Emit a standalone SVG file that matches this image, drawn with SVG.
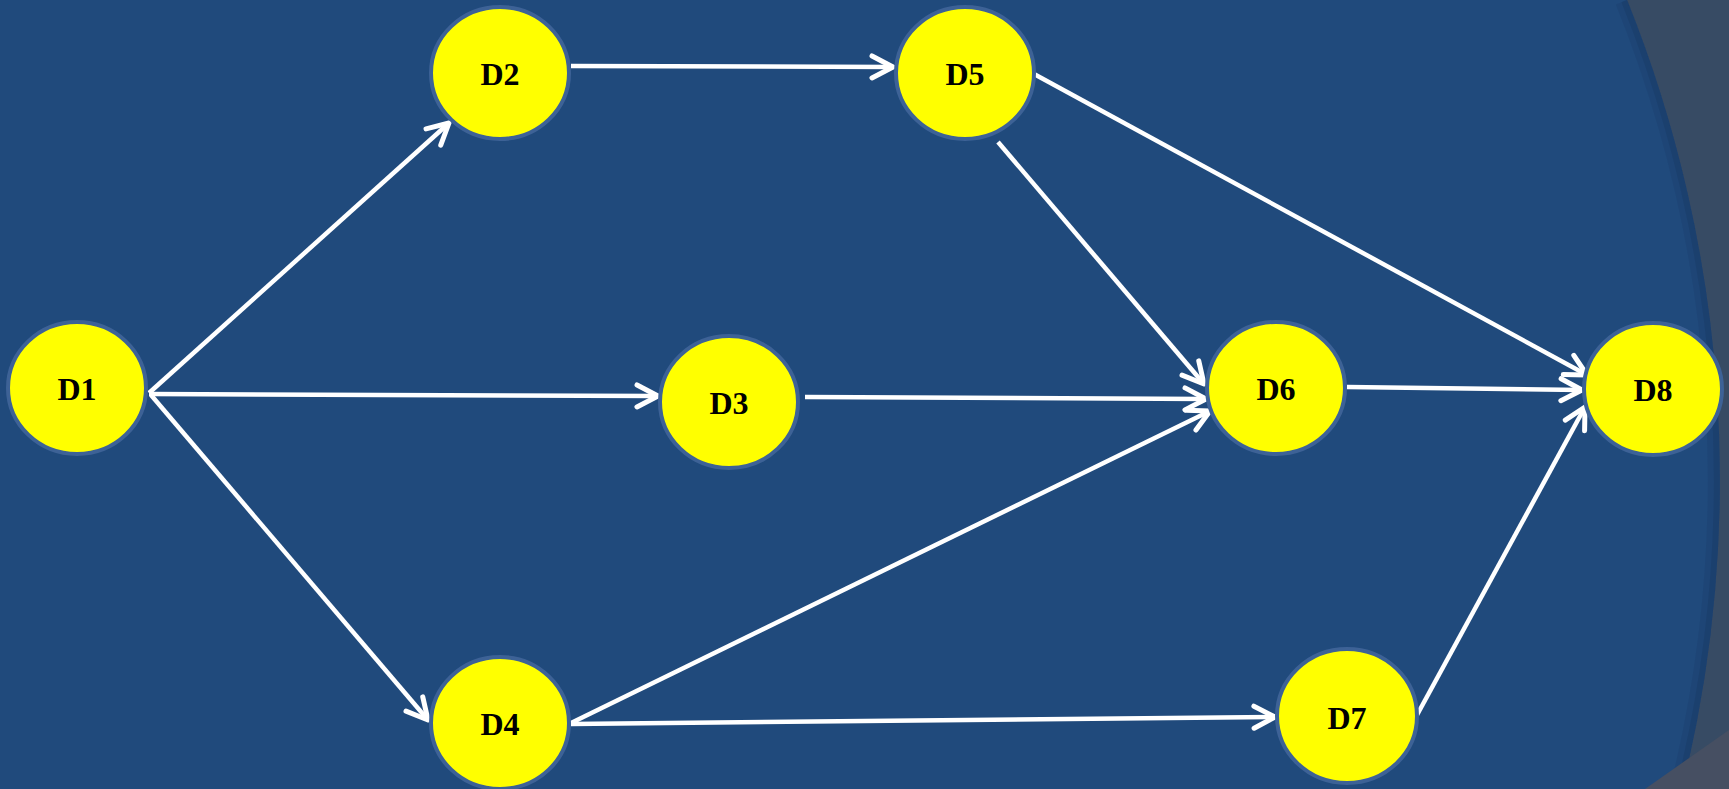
<svg xmlns="http://www.w3.org/2000/svg" width="1729" height="789" viewBox="0 0 1729 789">
  <defs>
    <style>
      .node ellipse { fill: #FFFF00; stroke: #3D6296; stroke-width: 4; }
      .node text { font-family: "Liberation Serif", "Times New Roman", serif; font-weight: bold; font-size: 32px; fill: #000000; text-anchor: middle; }
      .edge { fill: none; stroke: #FFFFFF; stroke-width: 4.5; marker-end: url(#arrow); }
    </style>
    <marker id="arrow" viewBox="-28 -17 32 34" markerWidth="32" markerHeight="34" refX="0" refY="0" markerUnits="userSpaceOnUse" orient="auto">
      <path d="M-21,-11 L0,0 L-21,11" fill="none" stroke="#FFFFFF" stroke-width="5" stroke-linecap="round" stroke-linejoin="round"/>
    </marker>
    <clipPath id="blueClip">
      <path d="M0,0 L1627,0 A1285,1285 0 0 1 1682,789 L0,789 Z"/>
    </clipPath>
  </defs>

  <g id="background">
    <rect x="0" y="0" width="1729" height="789" fill="#374B64"/>
    <path d="M0,0 L1627,0 A1285,1285 0 0 1 1682,789 L0,789 Z" fill="#204A7C"/>
    <g clip-path="url(#blueClip)">
      <path d="M1627,0 A1285,1285 0 0 1 1682,789" fill="none" stroke="#1A3D69" stroke-width="12" opacity="0.6"/>
      <path d="M1627,0 A1285,1285 0 0 1 1682,789" fill="none" stroke="#1A3D69" stroke-width="24" opacity="0.3"/>
    </g>
    <path d="M1645,789 L1729,730 L1729,789 Z" fill="#464F62"/>
  </g>

  <g id="connectors">
    <line class="edge" x1="149" y1="393" x2="449" y2="123"/>
    <line class="edge" x1="149" y1="394" x2="658" y2="396"/>
    <line class="edge" x1="151" y1="395" x2="428" y2="720"/>
    <line class="edge" x1="571" y1="66" x2="893" y2="67"/>
    <line class="edge" x1="998" y1="142" x2="1204" y2="384"/>
    <line class="edge" x1="805" y1="397" x2="1206" y2="399"/>
    <line class="edge" x1="571" y1="723" x2="1210" y2="411"/>
    <line class="edge" x1="571" y1="724" x2="1275" y2="717"/>
    <line class="edge" x1="1034" y1="74" x2="1587" y2="375"/>
    <line class="edge" x1="1347" y1="387" x2="1582" y2="390"/>
    <line class="edge" x1="1417" y1="715" x2="1585" y2="407"/>
  </g>

  <g id="D1" class="node">
    <ellipse cx="77" cy="388" rx="69" ry="66"/>
    <text x="77" y="400">D1</text>
  </g>
  <g id="D2" class="node">
    <ellipse cx="500" cy="73" rx="69" ry="66"/>
    <text x="500" y="85">D2</text>
  </g>
  <g id="D3" class="node">
    <ellipse cx="729" cy="402" rx="69" ry="66"/>
    <text x="729" y="414">D3</text>
  </g>
  <g id="D4" class="node">
    <ellipse cx="500" cy="723" rx="69" ry="66"/>
    <text x="500" y="735">D4</text>
  </g>
  <g id="D5" class="node">
    <ellipse cx="965" cy="73" rx="69" ry="66"/>
    <text x="965" y="85">D5</text>
  </g>
  <g id="D6" class="node">
    <ellipse cx="1276" cy="388" rx="69" ry="66"/>
    <text x="1276" y="400">D6</text>
  </g>
  <g id="D7" class="node">
    <ellipse cx="1347" cy="716" rx="70" ry="67"/>
    <text x="1347" y="729">D7</text>
  </g>
  <g id="D8" class="node">
    <ellipse cx="1653" cy="389" rx="69" ry="66"/>
    <text x="1653" y="401">D8</text>
  </g>
</svg>
